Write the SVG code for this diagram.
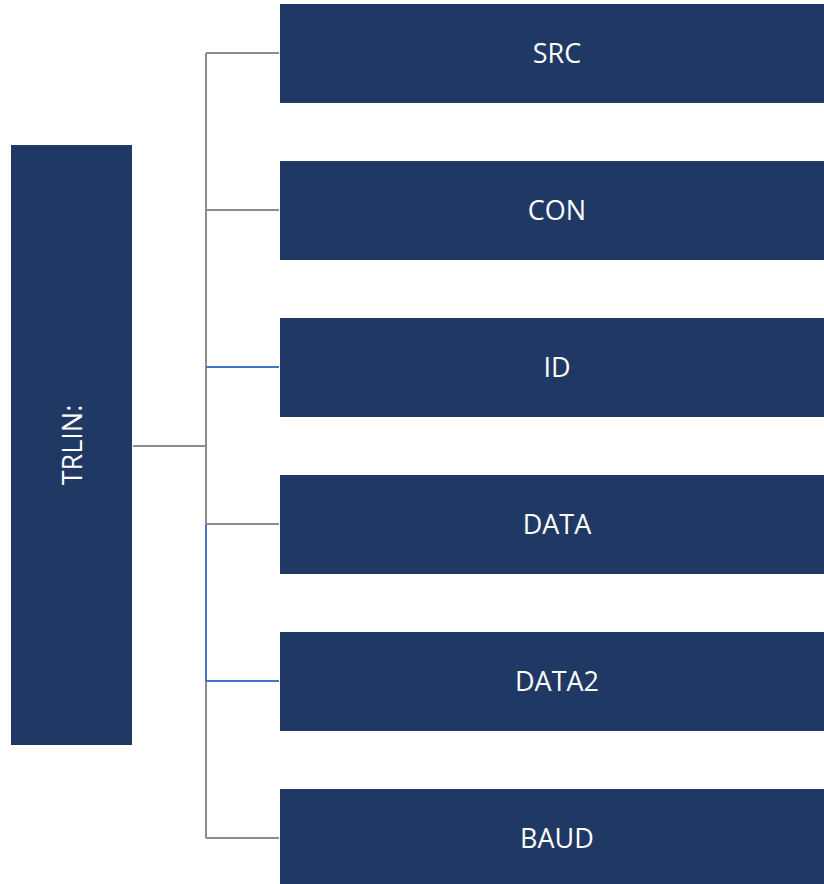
<svg xmlns="http://www.w3.org/2000/svg" width="824" height="884" viewBox="0 0 824 884">
<style>
.box{fill:#203864;}
.lbl{fill:#ffffff;font-family:"Open Sans","Liberation Sans",sans-serif;font-size:27px;text-anchor:middle;dominant-baseline:central;}
.g{stroke:#8c8c8c;stroke-width:2;fill:none;}
.b{stroke:#4472c4;stroke-width:2;fill:none;}
</style>
<rect width="824" height="884" fill="#ffffff"/>
<g id="connectors">
<line class="g" x1="133" y1="446" x2="206" y2="446"/>
<line class="g" x1="206" y1="53" x2="206" y2="838"/>
<line class="g" x1="206" y1="53" x2="279" y2="53"/>
<line class="g" x1="206" y1="210" x2="279" y2="210"/>
<line class="b" x1="206" y1="367" x2="279" y2="367"/>
<line class="g" x1="206" y1="524" x2="279" y2="524"/>
<line class="b" x1="206" y1="525" x2="206" y2="681"/>
<line class="b" x1="206" y1="681" x2="279" y2="681"/>
<line class="g" x1="206" y1="838" x2="279" y2="838"/>
</g>
<g id="TRLIN">
<rect class="box" x="11" y="145" width="121" height="600"/>
<text class="lbl" transform="translate(71,445) rotate(-90)">TRLIN:</text>
</g>
<g id="SRC">
<rect class="box" x="280" y="4" width="554" height="99"/>
<text class="lbl" x="557" y="52">SRC</text>
</g>
<g id="CON">
<rect class="box" x="280" y="161" width="554" height="99"/>
<text class="lbl" x="557" y="209">CON</text>
</g>
<g id="ID">
<rect class="box" x="280" y="318" width="554" height="99"/>
<text class="lbl" x="557" y="366">ID</text>
</g>
<g id="DATA">
<rect class="box" x="280" y="475" width="554" height="99"/>
<text class="lbl" x="557" y="523">DATA</text>
</g>
<g id="DATA2">
<rect class="box" x="280" y="632" width="554" height="99"/>
<text class="lbl" x="557" y="680">DATA2</text>
</g>
<g id="BAUD">
<rect class="box" x="280" y="789" width="554" height="99"/>
<text class="lbl" x="557" y="837">BAUD</text>
</g>
</svg>
